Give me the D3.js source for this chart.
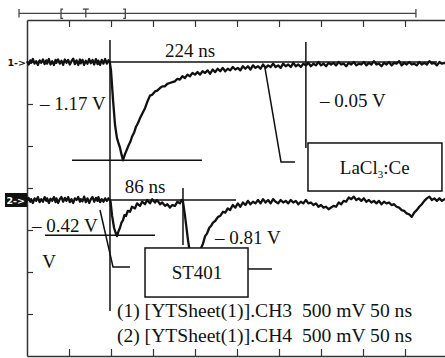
<!DOCTYPE html>
<html>
<head>
<meta charset="utf-8">
<script src="https://cdn.jsdelivr.net/npm/d3@7"></script>
<style>
  html, body { margin: 0; padding: 0; background: #fff; }
  svg { display: block; }
  svg text.serif { font-family: "Liberation Serif", "DejaVu Serif", serif; }
  svg text.sans { font-family: "DejaVu Sans", "Liberation Sans", sans-serif; }
</style>
</head>
<body>
<div id="chart"></div>
<script>
// trace data: [time (ns), voltage relative to channel baseline (V)]
const ch1Trace = [
  [0,0.01],[2,-0.03],[4,0.02],[5,-0.01],[7,0.035],[9,-0.02],[11,0.01],[13,-0.035],[15,0.02],[17,-0.01],
  [19,0.03],[21,-0.025],[23,0.02],[24,-0.02],[26,0.035],[28,-0.03],[30,0.01],[32,-0.035],[34,0.025],[35,-0.01],
  [37,0.03],[39,-0.02],[41,0.015],[43,-0.035],[45,0.03],[47,-0.01],[49,0.025],[51,-0.03],[53,0.01],[55,0.04],
  [57,-0.025],[59,0.02],[61,-0.035],[63,0.03],[64,-0.015],[66,0.025],[68,-0.035],[70,0.015],[72,-0.02],[74,0.035],
  [76,-0.015],[78,0.025],[80,-0.03],[82,0.035],[84,-0.025],[85,0.015],[87,-0.035],[89,0.025],[91,-0.02],[93,0.035],
  [95,-0.02],[97,0.02],[98.5,0.0],
  [100,-0.1],[102.4,-0.45],[104.8,-0.75],[107,-0.9],[109,-0.97],[110.7,-1.02],[112.5,-1.1],[114.3,-1.17],
  [116.5,-1.1],[119,-1.04],[121,-0.99],[123,-0.95],[125,-0.89],[127.5,-0.84],[129.8,-0.77],[132,-0.73],[134.5,-0.67],
  [137,-0.62],[140.5,-0.55],[143,-0.48],[146.4,-0.40],[149,-0.39],[152.4,-0.35],[155,-0.34],[158.3,-0.31],[161,-0.29],
  [164,-0.29],[167,-0.26],[170,-0.25],[173,-0.24],[176,-0.23],[179,-0.20],[182,-0.21],[185,-0.17],[188,-0.19],
  [191,-0.15],[194,-0.17],[197,-0.13],[200,-0.15],[203,-0.12],[206,-0.15],[209,-0.11],[212,-0.13],[215,-0.10],
  [218,-0.14],[221,-0.09],[224,-0.12],[227,-0.08],[230,-0.11],[233,-0.07],[236,-0.11],[239,-0.08],[242,-0.10],
  [245,-0.06],[248,-0.09],[251,-0.07],[254,-0.10],[257,-0.05],[260,-0.08],[263,-0.05],[266,-0.09],[269,-0.04],
  [272,-0.07],[275,-0.05],[278,-0.08],[281,-0.03],[284,-0.07],[287,-0.04],[290,-0.06],[293,-0.02],[296,-0.06],
  [299,-0.04],[302,-0.07],[305,-0.02],[308,-0.05],[311,-0.03],[314,-0.06],[317,-0.01],[320,-0.05],[323,-0.03],
  [326,-0.06],[329,-0.02],[332,-0.04],[335,-0.01],[338,-0.05],[341,-0.02],[344,-0.04],[347,0.0],[350,-0.04],
  [353,-0.02],[356,-0.05],[359,-0.01],[362,-0.03],[365,-0.01],[368,-0.04],[371,0.0],[374,-0.03],[377,-0.02],
  [380,-0.05],[383,-0.01],[386,-0.03],[389,0.0],[392,-0.04],[395,-0.02],[398,-0.03],[401,0.0],[404,-0.04],
  [407,-0.01],[410,-0.03],[413,0.01],[416,-0.03],[419,-0.02],[422,-0.05],[425,-0.01],[428,-0.03],[431,0.0],
  [434,-0.04],[437,-0.01],[440,-0.02],[443,0.01],[446,-0.04],[449,-0.01],[452,-0.03],[455,0.0],[458,-0.03],
  [461,-0.02],[464,-0.04],[467,0.0],[470,-0.03],[473,-0.01],[476,-0.03],[479,0.01],[482,-0.02],[485,-0.01],
  [488,-0.04],[491,0.0],[494,-0.02],[497,-0.01],[500,-0.03]
];

const ch2Trace = [
  [0,-0.01],[2,0.025],[4,-0.02],[5,0.01],[7,-0.035],[9,0.02],[11,-0.01],[13,0.035],[15,-0.025],[17,0.01],
  [19,-0.02],[21,0.035],[23,-0.01],[24,0.02],[26,-0.035],[28,0.015],[30,-0.01],[32,0.035],[34,-0.025],[35,0.02],
  [37,-0.035],[39,0.01],[41,0.035],[43,-0.02],[45,0.025],[47,-0.01],[49,0.035],[51,-0.025],[53,0.01],[55,-0.035],
  [57,0.02],[59,0.0],[61,0.035],[63,-0.02],[64,0.01],[66,-0.015],[68,0.04],[70,-0.025],[72,0.02],[74,-0.035],
  [76,0.01],[78,0.035],[80,-0.02],[82,0.025],[84,-0.01],[85,0.035],[87,-0.025],[89,0.01],[91,-0.02],[93,0.02],
  [95,-0.01],[97,0.02],[98.5,0.0],
  [99.5,-0.02],[101.2,-0.18],[103.6,-0.33],[105.5,-0.39],[107.1,-0.43],[109,-0.37],[110.7,-0.33],[112.5,-0.27],
  [114.3,-0.24],[116,-0.18],[117.9,-0.19],[120,-0.13],[122.6,-0.14],[125,-0.08],[128.6,-0.10],[131,-0.04],
  [134.5,-0.07],[137,-0.02],[140.5,-0.05],[143,0.0],[146.4,-0.04],[149,0.01],[152.4,-0.03],[155,0.0],
  [158.3,-0.05],[161,-0.03],[164.3,-0.07],[167,-0.05],[170.2,-0.09],[173,-0.06],[176.2,-0.07],[179,-0.02],
  [182.1,-0.04],[184,0.0],[185.7,-0.02],
  [188,-0.18],[191.7,-0.48],[195.2,-0.71],[198.8,-0.81],[202.4,-0.74],[206,-0.6],[209.5,-0.52],[212,-0.43],
  [214.3,-0.40],[217,-0.33],[219,-0.31],[221.4,-0.27],[224,-0.25],[227.4,-0.20],[230,-0.19],[233.3,-0.14],
  [236,-0.15],[239,-0.10],[241.7,-0.12],[245,-0.06],[248,-0.09],[251,-0.04],[254,-0.08],[257,-0.03],
  [260,-0.06],[263,-0.01],[266,-0.05],[269,-0.02],[272,-0.04],[275,0.0],[278,-0.04],[281,0.01],[284,-0.03],
  [287,0.0],[290,-0.04],[293,0.01],[296,-0.02],[299,-0.04],[302,0.0],[305,-0.03],[308,-0.01],[311,-0.04],
  [314,0.0],[317,-0.03],[320,-0.01],[323,-0.05],[326,-0.02],[329,-0.04],[332,0.0],[335,-0.04],[338,-0.03],
  [341,-0.06],[344,-0.04],[347,-0.08],[350,-0.06],[353,-0.09],[356,-0.08],[359,-0.11],[362,-0.09],[365,-0.07],
  [368,-0.08],[371,-0.03],[374,-0.05],[377,-0.01],[380,-0.02],[383,0.03],[386,0.01],[389,0.04],[392,0.0],
  [395,0.02],[398,-0.01],[401,0.02],[404,-0.02],[407,0.0],[410,-0.03],[413,-0.01],[416,-0.04],[419,-0.01],
  [422,-0.05],[425,-0.02],[428,-0.04],[431,-0.03],[434,-0.06],[437,-0.05],[440,-0.08],[443,-0.09],[446,-0.12],
  [449,-0.13],[452,-0.16],[455,-0.17],[458,-0.2],[461,-0.15],[464,-0.12],[467,-0.08],[470,-0.05],[473,-0.01],
  [476,0.02],[479,0.04],[482,0.0],[485,0.02],[488,-0.01],[491,0.02],[494,-0.01],[497,0.01],[500,0.0]
];

// labels
const channelMarkers = ["1->", "2->"];
const cursorLabels = ["224 ns", "86 ns"];
const voltLabels = ["\u2013 1.17 V", "\u2013 0.05 V", "\u2013 0.42 V", "\u2013 0.81 V"];
const boxLabels = ["LaCl", "3", ":Ce", "ST401"];
const unitLabel = "V";
const legendLines = [
  "(1) [YTSheet(1)].CH3  500 mV 50 ns",
  "(2) [YTSheet(1)].CH4  500 mV 50 ns"
];
const timeTicks = [50, 100, 150, 200, 250, 300, 350, 400, 450];
const voltTicks = [1.5, 1.0, 0.5, 0, -0.5, -1.0, -1.5];

const W = 445, H = 358;
const INK = "#111";
const FRAME = "#333";

const svg = d3.select("#chart")
  .append("svg")
  .attr("xmlns", "http://www.w3.org/2000/svg")
  .attr("width", W)
  .attr("height", H)
  .attr("viewBox", `0 0 ${W} ${H}`);

svg.append("rect")
  .attr("width", W)
  .attr("height", H)
  .attr("fill", "#fff");

// 50 ns / div, 500 mV / div
const x = d3.scaleLinear().domain([0, 500]).range([27, 447]);
const y = d3.scaleLinear().domain([-2, 2]).range([356, 20]);

const CH1_OFF = 1.5;
const CH2_OFF = -0.143;

// frame + ticks
const topAxis = svg.append("g")
  .attr("transform", `translate(0,${y(2)})`)
  .call(d3.axisBottom(x).tickValues(timeTicks).tickSize(7).tickSizeOuter(0).tickFormat(""));
const botAxis = svg.append("g")
  .attr("transform", `translate(0,${y(-2)})`)
  .call(d3.axisTop(x).tickValues(timeTicks).tickSize(7).tickSizeOuter(0).tickFormat(""));
const leftAxis = svg.append("g")
  .attr("transform", `translate(${x(0)},0)`)
  .call(d3.axisRight(y).tickValues(voltTicks).tickSize(6).tickSizeOuter(0).tickFormat(""));
[topAxis, botAxis, leftAxis].forEach(g => {
  g.select(".domain").attr("stroke", FRAME).attr("stroke-width", 1.5);
  g.selectAll(".tick line").attr("stroke", FRAME).attr("stroke-width", 1.2);
});

// top ruler with window brackets and trigger mark
const seg = d3.line().x(d => x(d[0])).y(d => y(d[1]));
const rulerShapes = [
  [[-9.5, 2.08], [463, 2.08]],
  [[-9.5, 2.13], [-9.5, 2.03]],
  [[463, 2.13], [463, 2.03]],
  [[43, 2.13], [40.5, 2.13], [40.5, 2.02], [43, 2.02]],   // [
  [[114.5, 2.13], [117, 2.13], [117, 2.02], [114.5, 2.02]], // ]
  [[66.5, 2.13], [73.5, 2.13]],                          // T top
  [[70, 2.13], [70, 2.03]]                               // T stem
];
rulerShapes.forEach(pts => {
  svg.append("path")
    .attr("d", seg(pts))
    .attr("fill", "none")
    .attr("stroke", "#444")
    .attr("stroke-width", 1.3);
});

// traces
const line1 = d3.line().x(d => x(d[0])).y(d => y(CH1_OFF + d[1]));
const line2 = d3.line().x(d => x(d[0])).y(d => y(CH2_OFF + d[1]));
[[ch1Trace, line1], [ch2Trace, line2]].forEach(([data, gen]) => {
  svg.append("path")
    .datum(data)
    .attr("fill", "none")
    .attr("stroke", INK)
    .attr("stroke-width", 2.3)
    .attr("stroke-linejoin", "round")
    .attr("d", gen);
});

// annotation lines, [time, screen volts]
const annoLines = [
  [[98.8, 1.762], [98.8, -1.464]],              // cursor A
  [[98.8, CH1_OFF], [488, CH1_OFF]],            // ch1 reference
  [[332, 1.738], [332, 0.476]],                 // cursor B
  [[53.6, CH1_OFF - 1.17], [208.3, CH1_OFF - 1.17]],
  [[283.3, 1.429], [302.4, 0.31], [319, 0.31]], // leader LaCl3
  [[98.8, CH2_OFF], [248.8, CH2_OFF]],          // ch2 reference
  [[185.7, 0.0], [185.7, -0.679]],              // cursor C
  [[21.4, CH2_OFF - 0.42], [152.4, CH2_OFF - 0.42]],
  [[86.9, -0.262], [102.4, -0.94], [122.6, -0.94]], // leader ST401
  [[263.1, -0.964], [291.7, -0.964]]
];
annoLines.forEach(pts => {
  svg.append("path")
    .attr("d", seg(pts))
    .attr("fill", "none")
    .attr("stroke", INK)
    .attr("stroke-width", 1.5);
});

// boxes
const boxes = [
  { t0: 334.5, t1: 494, v0: 0.536, v1: -0.036 },
  { t0: 140.5, t1: 263.1, v0: -0.714, v1: -1.298 }
];
boxes.forEach(b => {
  svg.append("rect")
    .attr("x", x(b.t0))
    .attr("y", y(b.v0))
    .attr("width", x(b.t1) - x(b.t0))
    .attr("height", y(b.v1) - y(b.v0))
    .attr("fill", "#fff")
    .attr("stroke", INK)
    .attr("stroke-width", 1.5);
});

function label(t, v, str, anchor, size) {
  return svg.append("text")
    .attr("class", "serif")
    .attr("x", x(t))
    .attr("y", y(v))
    .attr("text-anchor", anchor || "start")
    .attr("font-size", (size || 19) + "px")
    .attr("fill", INK)
    .style("white-space", "pre")
    .text(str);
}

label(194, 1.56, cursorLabels[0], "middle");
label(140.5, -0.06, cursorLabels[1], "middle");
label(15.5, 0.929, voltLabels[0]);
label(348.8, 0.964, voltLabels[1]);
label(6, -0.524, voltLabels[2]);
label(223.8, -0.667, voltLabels[3]);
label(26.2, -0.952, unitLabel, "middle");

const lab = svg.append("text")
  .attr("class", "serif")
  .attr("x", x(414))
  .attr("y", y(0.167))
  .attr("text-anchor", "middle")
  .attr("font-size", "19px")
  .attr("fill", INK);
lab.append("tspan").text(boxLabels[0]);
lab.append("tspan").attr("font-size", "11px").attr("dy", 4).text(boxLabels[1]);
lab.append("tspan").attr("dy", -4).text(boxLabels[2]);
label(202.4, -1.083, boxLabels[3], "middle");

label(107, -1.536, legendLines[0], "start", 19.6);
label(107, -1.833, legendLines[1], "start", 19.6);

// channel markers
svg.append("text")
  .attr("class", "sans")
  .attr("x", x(0) - 1)
  .attr("y", y(CH1_OFF) + 3.5)
  .attr("text-anchor", "end")
  .attr("font-size", "9.5px")
  .attr("font-weight", "bold")
  .attr("fill", INK)
  .text(channelMarkers[0]);
svg.append("rect")
  .attr("x", x(0) - 22)
  .attr("y", y(CH2_OFF) - 7)
  .attr("width", 22)
  .attr("height", 14)
  .attr("fill", INK);
svg.append("text")
  .attr("class", "sans")
  .attr("x", x(0) - 2)
  .attr("y", y(CH2_OFF) + 3.5)
  .attr("text-anchor", "end")
  .attr("font-size", "9.5px")
  .attr("font-weight", "bold")
  .attr("fill", "#fff")
  .text(channelMarkers[1]);
</script>
</body>
</html>
